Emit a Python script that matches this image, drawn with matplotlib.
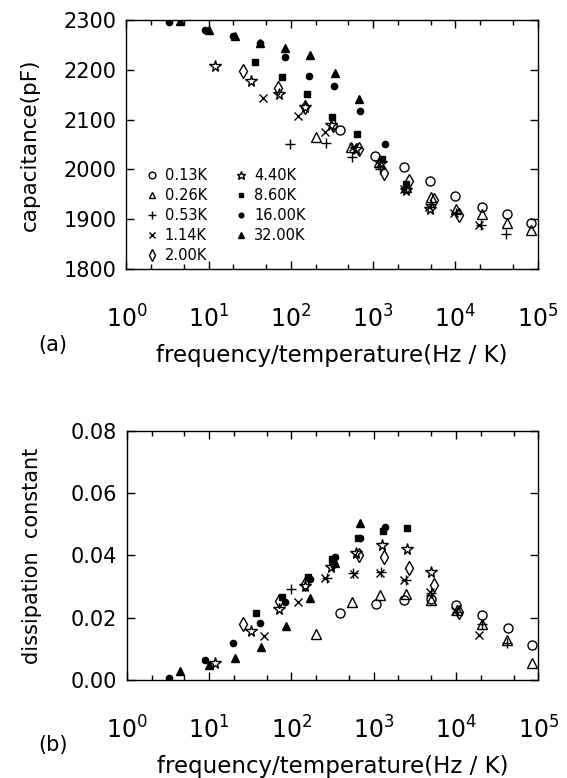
import numpy as np
import matplotlib
matplotlib.use("Agg")
import matplotlib.pyplot as plt
from matplotlib.ticker import LogLocator, MultipleLocator, NullFormatter, FormatStrFormatter

# temperatures and legend labels
labels = ["0.13K", "0.26K", "0.53K", "1.14K", "2.00K", "4.40K", "8.60K", "16.00K", "32.00K"]

# frequency/temperature (Hz/K) per series
x013 = [394, 1069, 2361, 4990, 10000, 20900, 42700, 83500]
x026 = [200, 540, 1190, 2490, 5000, 10300, 20900, 42000, 83500]
x053 = [98, 268, 560, 1220, 2500, 5000, 10300, 20600, 41600]
x114 = [46, 122, 258, 575, 1180, 2350, 4770, 9600, 19300]
x200 = [26, 70, 148, 325, 670, 1350, 2716, 5460, 11000]
x440 = [11.9, 32.3, 71, 148, 304, 611, 1253, 2520, 4980]
x860 = [37, 77, 158, 312, 640, 1280, 2530]
x1600 = [3.3, 8.9, 19.8, 41.5, 83.8, 167, 335, 684, 1378]
x3200 = [4.5, 10, 20.9, 42.5, 85, 169, 342, 673]

# capacitance (pF)
c013 = [2080, 2027, 2005, 1977, 1947, 1924, 1910, 1893]
c026 = [2066, 2045, 2015, 1965, 1945, 1920, 1910, 1892, 1878]
c053 = [2052, 2054, 2024, 2000, 1962, 1930, 1912, 1888, 1870]
c114 = [2143, 2108, 2076, 2045, 2010, 1960, 1925, 1912, 1888]
c200 = [2198, 2164, 2126, 2089, 2041, 1992, 1977, 1939, 1908]
c440 = [2208, 2178, 2151, 2126, 2089, 2041, 2012, 1959, 1920]
c860 = [2215, 2185, 2151, 2106, 2072, 2020, 1970]
c1600 = [2295, 2280, 2268, 2254, 2226, 2188, 2168, 2117, 2052]
c3200 = [2297, 2280, 2268, 2254, 2243, 2230, 2194, 2141]

# dissipation constant
d013 = [0.0215, 0.0245, 0.0258, 0.0261, 0.0242, 0.021, 0.0166, 0.0111]
d026 = [0.0147, 0.0249, 0.0272, 0.0276, 0.0258, 0.0225, 0.018, 0.0129, 0.0054]
d053 = [0.0292, 0.0328, 0.0344, 0.0347, 0.0320, 0.0281, 0.022, 0.018, 0.0118]
d114 = [0.0141, 0.0252, 0.0327, 0.0341, 0.0345, 0.0321, 0.0284, 0.0222, 0.0145]
d200 = [0.018, 0.0254, 0.031, 0.0375, 0.0402, 0.0394, 0.0359, 0.0305, 0.0219]
d440 = [0.0056, 0.0158, 0.0229, 0.0302, 0.0362, 0.0409, 0.0434, 0.0421, 0.0346]
d860 = [0.0216, 0.0268, 0.0332, 0.0390, 0.0456, 0.0478, 0.0488]
d1600 = [0.0005, 0.0064, 0.012, 0.0182, 0.0252, 0.0325, 0.0395, 0.0455, 0.0493]
d3200 = [0.003, 0.0047, 0.007, 0.0107, 0.0175, 0.0262, 0.0375, 0.0503]

xs = [x013, x026, x053, x114, x200, x440, x860, x1600, x3200]
cs = [c013, c026, c053, c114, c200, c440, c860, c1600, c3200]
ds = [d013, d026, d053, d114, d200, d440, d860, d1600, d3200]

# marker, size, filled
styles = [("o", 6.5, False), ("^", 6.5, False), ("+", 7, False), ("x", 5.5, False),
          ("d", 7.5, False), ("*", 8.5, False), ("s", 4.5, True), ("o", 4.5, True), ("^", 5.5, True)]

plt.rcParams["font.family"] = "DejaVu Sans"

fig = plt.figure(figsize=(5.67, 7.78), dpi=100)
ax1 = fig.add_axes([0.2231, 0.6542, 0.7249, 0.3201])
ax2 = fig.add_axes([0.2235, 0.126, 0.7259, 0.320])


def draw(ax, ys):
    handles = []
    for x, y, (m, s, filled), lab in zip(xs, ys, styles, labels):
        h, = ax.plot(x, y, linestyle="none", marker=m, markersize=s, color="black",
                     markerfacecolor="black" if filled else "none",
                     markeredgewidth=1.0, label=lab)
        handles.append(h)
    ax.set_xscale("log")
    ax.set_xlim(1, 1e5)
    ax.xaxis.set_major_locator(LogLocator(base=10, numticks=10))
    ax.xaxis.set_minor_locator(LogLocator(base=10, subs=(2, 5), numticks=10))
    ax.xaxis.set_minor_formatter(NullFormatter())
    ax.tick_params(which="both", direction="in", top=True, right=True, width=1.0)
    ax.tick_params(which="major", length=6)
    ax.tick_params(which="minor", length=3.5)
    ax.tick_params(axis="x", labelsize=17, pad=26)
    ax.tick_params(axis="y", labelsize=15, pad=7)
    for sp in ax.spines.values():
        sp.set_linewidth(1.0)
    ax.set_xlabel("frequency/temperature(Hz / K)", fontsize=16.5, labelpad=8.5)
    return handles


h = draw(ax1, cs)
ax1.set_ylim(1800, 2300)
ax1.yaxis.set_major_locator(MultipleLocator(100))
ax1.set_ylabel("capacitance(pF)", fontsize=15.5)
ax1.yaxis.set_label_coords(-0.21, 0.5)
ax1.legend(handles=h, ncol=2, loc="lower left", bbox_to_anchor=(0.019, -0.024),
           frameon=False, fontsize=10.5, markerscale=0.75, handlelength=0.8,
           handletextpad=0.5, columnspacing=1.9, labelspacing=0.35, borderaxespad=0.4)

draw(ax2, ds)
ax2.set_ylim(0, 0.08)
ax2.yaxis.set_major_locator(MultipleLocator(0.02))
ax2.yaxis.set_major_formatter(FormatStrFormatter("%.2f"))
ax2.set_ylabel("dissipation  constant", fontsize=15)
ax2.yaxis.set_label_coords(-0.205, 0.5)

fig.text(53 / 567, 1 - 345 / 778, "(a)", fontsize=15, ha="center", va="center")
fig.text(53 / 567, 1 - 745 / 778, "(b)", fontsize=15, ha="center", va="center")

fig.savefig("out.png", dpi=100)
